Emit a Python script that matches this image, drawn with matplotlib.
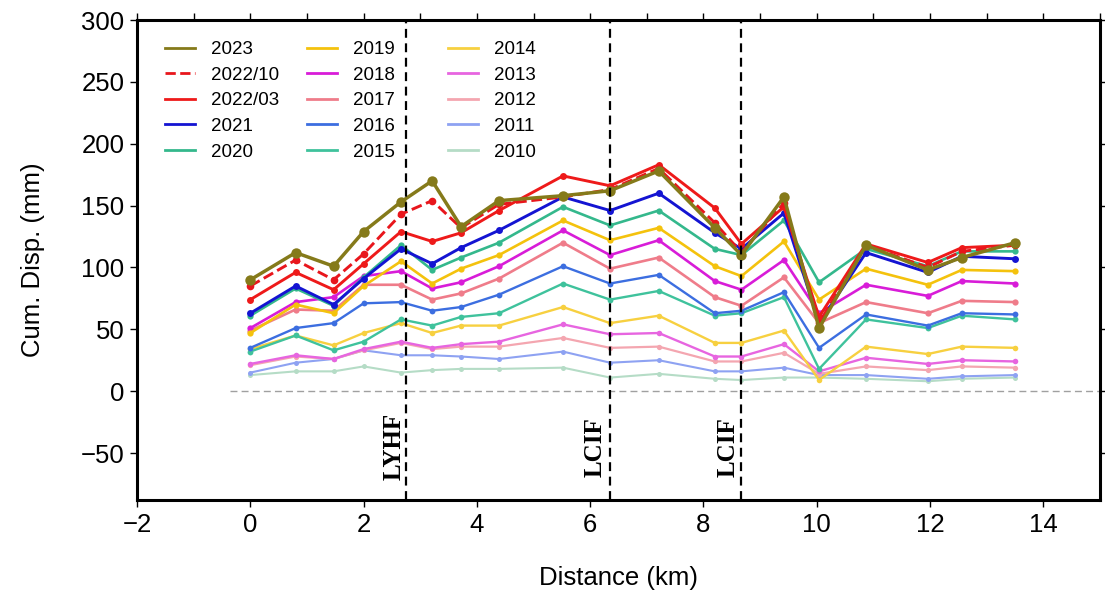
import matplotlib
matplotlib.use("Agg")
import matplotlib.pyplot as plt
from matplotlib.lines import Line2D
from matplotlib.ticker import MultipleLocator

plt.rcParams['font.family'] = ['Liberation Sans', 'DejaVu Sans']

# ---------------- data ----------------
distance_km = [0.0, 0.8, 1.47, 2.0, 2.66, 3.21, 3.72, 4.39, 5.52, 6.35,
               7.21, 8.2, 8.67, 9.42, 10.04, 10.87, 11.96, 12.56, 13.5]

d2023   = [90, 112, 101, 129, 153, 170, 133, 154, 158, 162, 178, 132, 110, 157, 51, 118, 98, 108, 120]
d202210 = [85, 106, 90, 111, 143, 154, 132, 151, 157, 163, 180, 136, 112, 152, 55, 118, 100, 113, 118]
d202203 = [74, 96, 82, 103, 129, 121, 128, 146, 174, 166, 183, 148, 119, 149, 60, 119, 104, 116, 118]
d2021   = [63, 85, 70, 91, 115, 103, 116, 130, 157, 146, 160, 128, 115, 144, 55, 112, 96, 109, 107]
d2020   = [61, 83, 69, 92, 118, 98, 108, 120, 149, 134, 146, 115, 110, 138, 88, 115, 101, 113, 113]
d2019   = [47, 70, 63, 85, 105, 87, 99, 110, 138, 122, 132, 101, 93, 121, 74, 99, 86, 98, 97]
d2018   = [51, 72, 76, 93, 97, 83, 88, 101, 130, 110, 122, 89, 82, 106, 63, 86, 77, 89, 87]
d2017   = [49, 66, 65, 86, 86, 74, 79, 91, 120, 99, 108, 76, 69, 92, 55, 72, 63, 73, 72]
d2016   = [35, 51, 55, 71, 72, 65, 68, 78, 101, 87, 94, 63, 65, 80, 35, 62, 53, 63, 62]
d2015   = [32, 45, 33, 40, 58, 53, 60, 63, 87, 74, 81, 61, 63, 76, 18, 58, 51, 61, 58]
d2014   = [34, 45, 37, 47, 55, 47, 53, 53, 68, 55, 61, 39, 39, 49, 9, 36, 30, 36, 35]
d2013   = [22, 29, 26, 34, 40, 35, 38, 40, 54, 46, 47, 28, 28, 38, 16, 27, 22, 25, 24]
d2012   = [21, 28, 26, 33, 39, 34, 36, 36, 43, 35, 36, 24, 24, 31, 14, 20, 17, 20, 19]
d2011   = [15, 23, 26, 33, 29, 29, 28, 26, 32, 23, 25, 16, 16, 19, 13, 13, 10, 12, 13]
d2010   = [13, 16, 16, 20, 15, 17, 18, 18, 19, 11, 14, 10, 9, 11, 11, 10, 8, 10, 11]

labels = ['2023', '2022/10', '2022/03', '2021', '2020',
          '2019', '2018', '2017', '2016', '2015',
          '2014', '2013', '2012', '2011', '2010']
series = [d2023, d202210, d202203, d2021, d2020,
          d2019, d2018, d2017, d2016, d2015,
          d2014, d2013, d2012, d2011, d2010]
colors = ['#857a1a', '#e8161c', '#ee1a1a', '#1414d2', '#34b88c',
          '#f4c20d', '#d81cd8', '#ef7c8a', '#3c6ee0', '#3fc29c',
          '#f7d040', '#e765e0', '#f4a6b0', '#8ea2f2', '#b5dcc6']
styles = ['-', '--', '-', '-', '-', '-', '-', '-', '-', '-', '-', '-', '-', '-', '-']
lwidths = [2.5, 2.1, 2.1, 2.1, 1.9, 1.9, 1.9, 1.9, 1.7, 1.7, 1.7, 1.7, 1.6, 1.5, 1.5]
msizes = [7.5, 5.5, 5.0, 5.0, 4.5, 4.5, 4.5, 4.5, 4.2, 4.2, 4.0, 4.0, 3.8, 3.6, 3.6]

faults_x = [2.74, 6.35, 8.67]
faults_names = ['LYHF', 'LCIF', 'LCIF']
faults_label_x = [2.53, 6.08, 8.43]

# ---------------- figure ----------------
fig = plt.figure(figsize=(11.05, 5.94), dpi=100)
ax = fig.add_axes([0.124, 0.1582, 0.8715, 0.8081])

ax.plot([-0.35, 15], [0, 0], color='#a0a0a0', lw=1.0, ls=(0, (5, 3)), zorder=1)

for i in range(len(series) - 1, -1, -1):
    ax.plot(distance_km, series[i], color=colors[i], ls=styles[i], lw=lwidths[i],
            marker='o', ms=msizes[i], markeredgewidth=0, zorder=3 + (len(series) - i) * 0.1)

for fx, name, lx in zip(faults_x, faults_names, faults_label_x):
    ax.axvline(fx, color='black', lw=1.6, ls=(0, (4, 2.5)), zorder=5)
    ax.text(lx, -45, name, rotation=90, ha='center', va='center',
            family=['Liberation Serif', 'DejaVu Serif'], fontweight='bold', fontsize=18)

ax.set_xlim(-2, 15)
ax.set_ylim(-88, 300)
ax.set_xticks(range(-2, 15, 2))
ax.set_yticks(range(-50, 301, 50))
ax.xaxis.set_minor_locator(MultipleLocator(1))
ax.tick_params(which='major', direction='out', length=5, width=1.0, labelsize=18.5,
               top=True, right=True, pad=4)
ax.tick_params(which='minor', direction='out', length=5, width=1.0,
               bottom=False, top=True)
ax.set_xticklabels([str(v) if v >= 0 else '\u2212' + str(-v) for v in range(-2, 15, 2)])
ax.set_yticklabels([str(v) if v >= 0 else '\u2212' + str(-v) for v in range(-50, 301, 50)])
for sp in ax.spines.values():
    sp.set_linewidth(2.2)

ax.set_xlabel('Distance (km)', fontsize=18.5, labelpad=21)
ax.set_ylabel('Cum. Disp. (mm)', fontsize=18.5, labelpad=26)

# legend: three columns placed individually
handles = [Line2D([], [], color=c, ls=s, lw=2.0) for c, s in zip(colors, styles)]
anchors = [0.0291, 0.1765, 0.323]
for k in range(3):
    leg = ax.legend(handles[5 * k:5 * k + 5], labels[5 * k:5 * k + 5],
                    loc='upper left', bbox_to_anchor=(anchors[k], 0.956),
                    frameon=False, fontsize=13.5, handlelength=1.6,
                    handletextpad=0.85, labelspacing=0.45, borderpad=0,
                    borderaxespad=0)
    if k < 2:
        ax.add_artist(leg)

fig.savefig('out.png', dpi=100)
